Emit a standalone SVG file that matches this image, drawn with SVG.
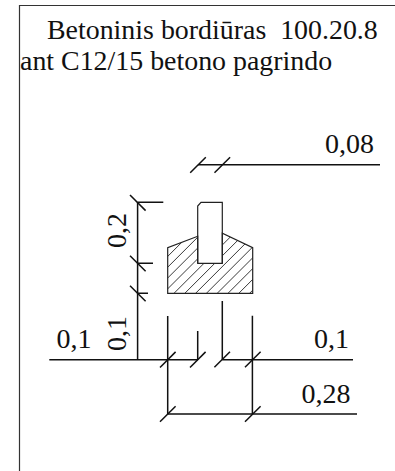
<svg xmlns="http://www.w3.org/2000/svg" width="395" height="471" viewBox="0 0 395 471">
<style>
text{font-family:"Liberation Serif","Times New Roman",serif;fill:#111;white-space:pre}
.t{font-size:27.9px}
.d{font-size:28px}
.l{fill:none;stroke:#111;stroke-width:1.5}
.o{fill:none;stroke:#222;stroke-width:1.2}
.h{fill:none;stroke:#222;stroke-width:.9}
</style>
<defs>
<clipPath id="hc"><polygon points="167.7,247.7 197.7,236.3 197.7,263.3 222.3,263.3 222.3,233.3 252.7,247.7 252.7,293.3 167.7,293.3"/></clipPath>
<path id="tick" d="M-7.8,7.8L7.8,-7.8"/>
<path id="tickv" d="M-7.8,-7.8L7.8,7.8"/>
</defs>
<rect width="395" height="471" fill="#fff"/>
<g id="frame"><path d="M19.5,471V5.5H395" fill="none" stroke="#333" stroke-width="1.2"/></g>
<g id="title">
<text class="t" x="47" y="39" xml:space="preserve">Betoninis bordiūras  100.20.8</text>
<text class="t" x="20" y="70">ant C12/15 betono pagrindo</text>
</g>
<g id="section">
<path class="h" clip-path="url(#hc)" d="M140,284.1L260,164.1M140,294.9L260,174.9M140,305.7L260,185.7M140,316.5L260,196.5M140,327.3L260,207.3M140,338.1L260,218.1M140,348.9L260,228.9M140,359.7L260,239.7M140,370.5L260,250.5M140,381.3L260,261.3M140,392.1L260,272.1M140,402.9L260,282.9"/>
<polygon class="o" points="167.7,293.3 167.7,247.7 197.7,236.3 197.7,263.3 222.3,263.3 222.3,233.3 252.7,247.7 252.7,293.3"/>
<path class="o" d="M197.7,263.3V206L201,202.3H222.3V263.3"/>
</g>
<g id="connectors" class="l">
<path d="M198,164.7H380"/>
<use href="#tick" x="198" y="165"/><use href="#tick" x="222.3" y="165"/>
<path d="M137.6,202.3V359.7M137.6,202.3H163.3M137.6,263.3H153M137.6,293.3H148"/>
<use href="#tickv" x="137.8" y="202.8"/><use href="#tickv" x="137.8" y="263.5"/><use href="#tickv" x="137.8" y="293.5"/>
<path d="M49.3,359.7H198M222.3,359.7H353"/>
<path d="M167.7,316V414M197.7,331V359.7M222.3,301V359.7M252.4,315.7V414M167.7,414H357"/>
<use href="#tick" x="167.8" y="359.7"/><use href="#tick" x="197.8" y="359.7"/><use href="#tick" x="222.2" y="359.5"/><use href="#tick" x="252.8" y="359.5"/>
<use href="#tick" x="167.8" y="414"/><use href="#tick" x="252.8" y="414"/>
</g>
<g id="labels">
<text class="d" x="325" y="152.7">0,08</text>
<text class="d" transform="translate(126,248) rotate(-90)">0,2</text>
<text class="d" transform="translate(126,351) rotate(-90)">0,1</text>
<text class="d" x="56.5" y="348.3">0,1</text>
<text class="d" x="314" y="348.3">0,1</text>
<text class="d" x="301.5" y="402.7">0,28</text>
</g>
</svg>
